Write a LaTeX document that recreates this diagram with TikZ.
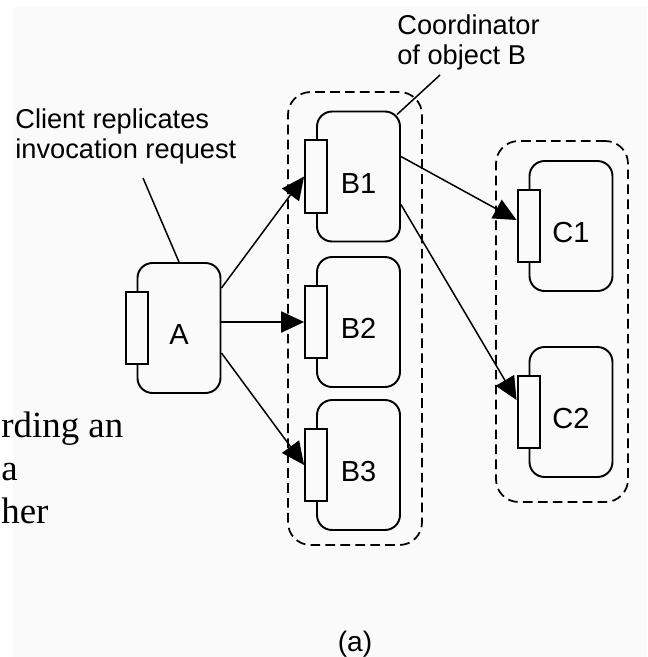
\documentclass[tikz,border=0pt]{standalone}
\usepackage{fontspec}
\setmainfont{Liberation Sans}
\newfontfamily\slidefont{Liberation Serif}
\usepackage{tikz}
\usetikzlibrary{positioning,calc,arrows.meta}

\tikzset{
  obj/.style={draw, line width=1.1pt, rounded corners=0.3cm, minimum width=1.66cm,
    minimum height=2.6cm, inner sep=0pt, text height=0.66cm,
    font=\fontsize{16.5}{19}\selectfont},
  iface/.style={draw, line width=1.1pt, fill=black!2, minimum width=0.44cm,
    minimum height=1.45cm, inner sep=0pt},
  group/.style={draw, dash pattern=on 5.5pt off 3pt, line width=1pt,
    rounded corners=0.45cm, inner sep=0pt},
  call/.style={-{Triangle[length=13pt,width=12pt]}, line width=0.85pt},
  note/.style={font=\fontsize{15.5}{17.5}\selectfont, align=left, inner sep=0pt},
}

\begin{document}
\begin{tikzpicture}[x=0.02cm, y=-0.02cm]
\useasboundingbox (0,0) rectangle (647,657);
\fill[white] (0,0) rectangle (647,657);
\fill[black!2] (13,7) rectangle (647,657);

% replica groups
\node[group, minimum width=2.68cm, minimum height=9.06cm] (grpB) at (355,318.5) {};
\node[group, minimum width=2.64cm, minimum height=7.22cm] (grpC) at (562,321.5) {};

% client
\node[obj] (A) at (179,328) {A};
\node[iface] (Ai) at (A.west) {};

% replicas of B
\node[obj] (B1) at (358.5,176.5) {B1};
\node[iface] (B1i) at (B1.west) {};
\node[obj] (B2) at (358.5,322) {B2};
\node[iface] (B2i) at (B2.west) {};
\node[obj] (B3) at (358.5,465) {B3};
\node[iface] (B3i) at (B3.west) {};

% replicas of C
\node[obj] (C1) at (571,226) {C1};
\node[iface] (C1i) at (C1.west) {};
\node[obj] (C2) at (571,412) {C2};
\node[iface] (C2i) at (C2.west) {};

% invocations
\draw[call] ($(A.east)+(0,-40)$) -- (B1i.west);
\draw[call] (A.east |- B2i) -- (B2i.west);
\draw[call] ($(A.east)+(0,25)$) -- (B3i.west);
\draw[call] ($(B1.east)+(0,-20)$) -- ($(C1i.west)+(0,-6)$);
\draw[call] ($(B1.east)+(0,28)$) -- ($(C2i.west)+(0,-12)$);

% notes
\node[note, anchor=north west] (client) at (15,108) {Client replicates\\invocation request};
\coordinate (clientfoot) at (143,178);
\draw[line width=0.85pt] (clientfoot) -- (A.north);

\node[note, anchor=north west] (coord) at (397,14) {Coordinator\\of object B};
\coordinate (coordfoot) at (440,75);
\draw[line width=0.85pt] (coordfoot) -- ($(B1.north east)+(-4,4)$);

\node[font=\fontsize{16}{18}\selectfont] (caption) at (355,644) {(a)};

% left-over slide text
\node[anchor=north west, align=left, inner sep=0pt,
  font=\slidefont\fontsize{21}{24.4}\selectfont] (slide) at (1,412) {rding an\\a\\her};
\end{tikzpicture}
\end{document}
